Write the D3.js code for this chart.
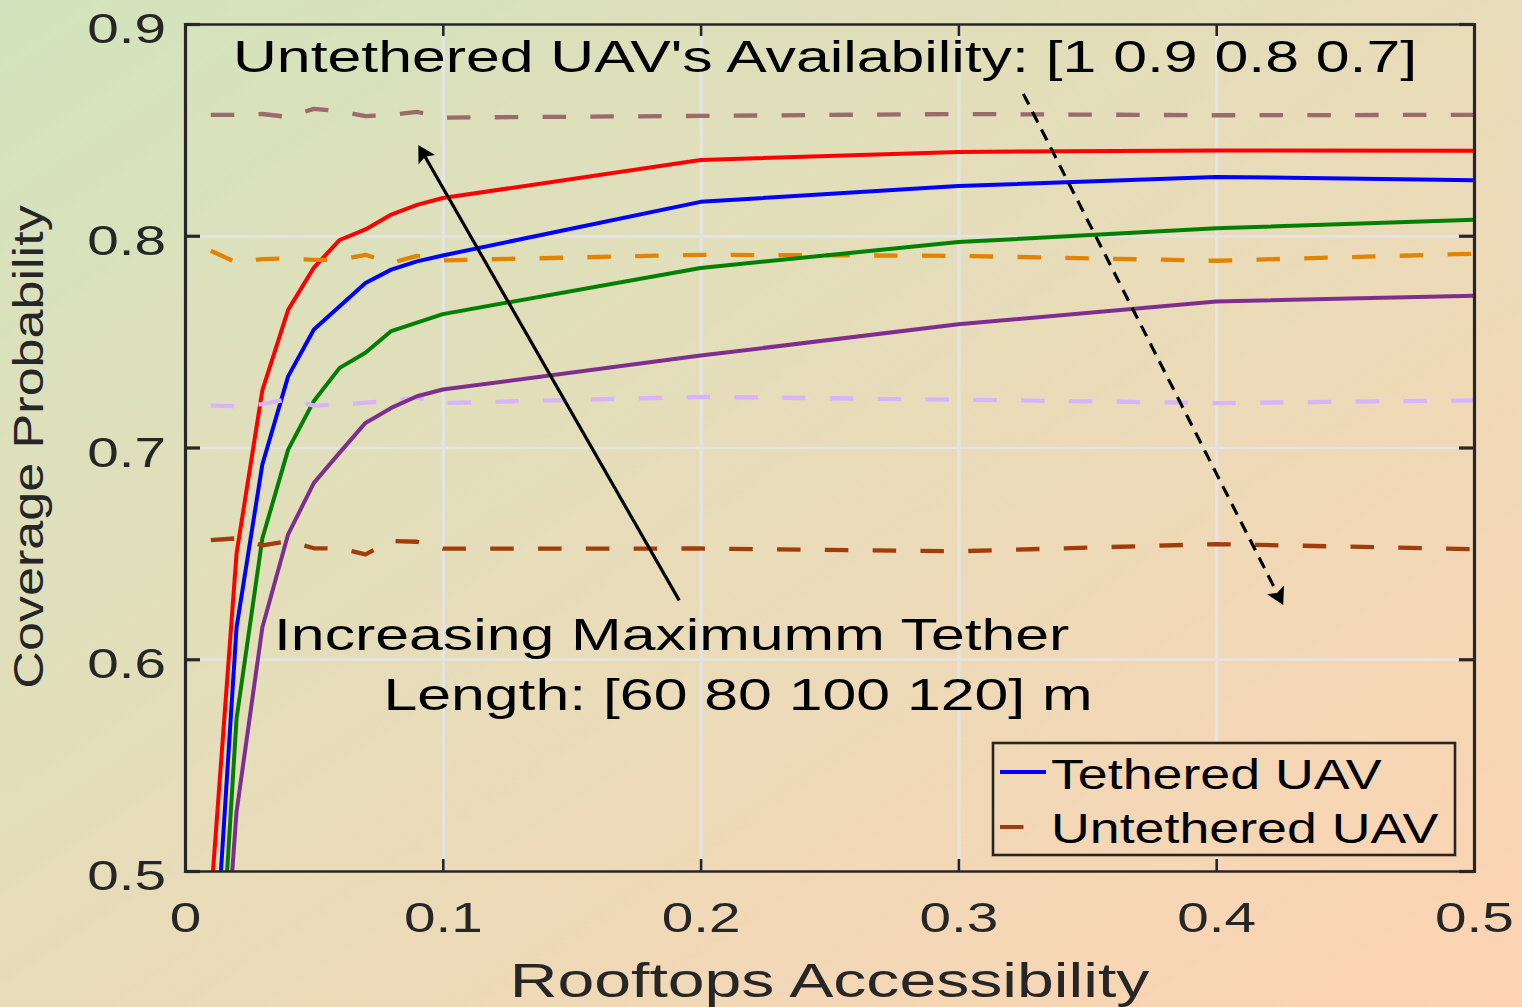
<!DOCTYPE html>
<html><head><meta charset="utf-8">
<script src="https://cdn.jsdelivr.net/npm/d3@7"></script>
<style>html,body{margin:0;padding:0;background:#e8dbb8;overflow:hidden;} svg{display:block;}</style>
</head><body>
<svg id="chart" width="1522" height="1007"></svg>
<script>
// ---------------- data ----------------
const rooftopAccess = [0.01,0.02,0.03,0.04,0.05,0.06,0.07,0.08,0.09,0.1,0.2,0.3,0.4,0.5];
// Tethered UAV, max tether length 120 / 100 / 80 / 60 m
const tethered120 = [0.486,0.650,0.727,0.765,0.785,0.798,0.803,0.810,0.8146,0.8178,0.8358,0.8396,0.8403,0.8402];
const tethered100 = [0.425,0.615,0.692,0.7336,0.7557,0.7667,0.7777,0.784,0.7879,0.7907,0.8160,0.8235,0.8278,0.8262];
const tethered80  = [0.375,0.572,0.657,0.699,0.722,0.7376,0.7447,0.755,0.759,0.7630,0.7848,0.7970,0.8035,0.8075];
const tethered60  = [0.360,0.528,0.615,0.659,0.6833,0.6976,0.7116,0.7187,0.7242,0.7274,0.7434,0.7582,0.7689,0.7717];
// Untethered UAV, availability 1 / 0.9 / 0.8 / 0.7
const untethered10 = [0.8571,0.8571,0.8575,0.8561,0.8599,0.8588,0.8565,0.8570,0.8585,0.8558,0.8566,0.8575,0.8569,0.8571];
const untethered09 = [0.7929,0.7874,0.7890,0.7893,0.7886,0.7886,0.7910,0.7872,0.7905,0.7884,0.7910,0.7905,0.7882,0.7915];
const untethered08 = [0.7198,0.7195,0.7205,0.7228,0.7198,0.7203,0.7212,0.7220,0.7235,0.7210,0.7239,0.7226,0.7210,0.7222];
const untethered07 = [0.6563,0.6571,0.6538,0.6558,0.6524,0.6524,0.6495,0.6559,0.6555,0.6522,0.6523,0.6510,0.6544,0.6520];

const xTicks = [0,0.1,0.2,0.3,0.4,0.5];
const xTickLabels = ["0","0.1","0.2","0.3","0.4","0.5"];
const yTicks = [0.5,0.6,0.7,0.8,0.9];
const yTickLabels = ["0.5","0.6","0.7","0.8","0.9"];
const legendLabels = ["Tethered UAV","Untethered UAV"];
const titleText = "Untethered UAV's Availability: [1 0.9 0.8 0.7]";
const noteLines = ["Increasing Maximumm Tether","Length: [60 80 100 120] m"];
const xLabel = "Rooftops Accessibility";
const yLabel = "Coverage Probability";
// arrows in data coordinates: [x0,y0,x1(tip),y1(tip)]
const tetherArrow = [0.1917,0.6278,0.0905,0.8429];
const availArrow  = [0.3252,0.8670,0.4260,0.6256];

// ---------------- setup ----------------
const W=1522, H=1007, L=185, R=1474, T=24, B=871;
const FONT = "'Liberation Sans', Arial, Helvetica, sans-serif";
const SX = 1.35; // horizontal stretch of text in reference
const svg = d3.select("#chart");
const defs = svg.append("defs");

// background gradient (userSpace so legend shares it)
const gx = 1007, gy = 1522, gl = Math.hypot(gx,gy);
const proj = (1522*gx + 1007*gy)/gl;
const grad = defs.append("linearGradient").attr("id","bg").attr("gradientUnits","userSpaceOnUse")
  .attr("x1",0).attr("y1",0).attr("x2",gx/gl*proj).attr("y2",gy/gl*proj);
grad.append("stop").attr("offset",0).attr("stop-color","#d2e4bd");
grad.append("stop").attr("offset",0.5).attr("stop-color","#e8dcb9");
grad.append("stop").attr("offset",1).attr("stop-color","#fdd3b3");
svg.append("rect").attr("width",W).attr("height",H).attr("fill","url(#bg)");

defs.append("clipPath").attr("id","plotClip").append("rect")
  .attr("x",L).attr("y",T).attr("width",R-L).attr("height",B-T);

const x = d3.scaleLinear().domain([0,0.5]).range([L,R]);
const y = d3.scaleLinear().domain([0.5,0.9]).range([B,T]);

// ---------------- grid ----------------
svg.append("g").attr("transform",`translate(0,${B})`)
  .call(d3.axisBottom(x).tickValues(xTicks.slice(1,-1)).tickSize(-(B-T)).tickFormat(""))
  .call(g=>g.select(".domain").remove())
  .selectAll("line").attr("stroke","#e4e4e4").attr("stroke-width",3.2);
svg.append("g").attr("transform",`translate(${L},0)`)
  .call(d3.axisLeft(y).tickValues(yTicks.slice(1,-1)).tickSize(-(R-L)).tickFormat(""))
  .call(g=>g.select(".domain").remove())
  .selectAll("line").attr("stroke","#e4e4e4").attr("stroke-width",2.6);

// ---------------- series ----------------
const DASH = "23.5,24.3";
const series = [
  {v:tethered120,  c:"#ff0000", d:null},
  {v:untethered10, c:"#9c6a6a", d:DASH},
  {v:tethered100,  c:"#0000ff", d:null},
  {v:untethered09, c:"#e38400", d:DASH},
  {v:tethered80,   c:"#008000", d:null},
  {v:untethered08, c:"#d8b4fd", d:DASH},
  {v:tethered60,   c:"#7e2f8e", d:null},
  {v:untethered07, c:"#a13d0a", d:DASH}
];
const line = d3.line().x((d,i)=>x(rooftopAccess[i])).y(d=>y(d));
const gLines = svg.append("g").attr("clip-path","url(#plotClip)");
series.forEach(s=>{
  gLines.append("path").datum(s.v).attr("d",line)
    .attr("fill","none").attr("stroke",s.c).attr("stroke-width",s.d?4.3:4)
    .attr("stroke-linejoin","round")
    .attr("stroke-dasharray",s.d);
});

// ---------------- axes ----------------
const AX = "#262626";
function styleAxis(g, w){
  g.select(".domain").attr("stroke",AX).attr("stroke-width",w).attr("stroke-linecap","square");
  g.selectAll(".tick line").attr("stroke",AX).attr("stroke-width",w);
}
const gB = svg.append("g").attr("transform",`translate(0,${B})`)
  .call(d3.axisBottom(x).tickValues(xTicks).tickFormat((d,i)=>xTickLabels[i]).tickSizeInner(-12).tickSizeOuter(0));
styleAxis(gB,2.6);
gB.selectAll(".tick text").attr("y",null).attr("dy",null)
  .attr("transform","translate(0,61) scale("+SX+",1)")
  .attr("font-family",FONT).attr("font-size",42).attr("fill",AX).attr("text-anchor","middle");

const gT = svg.append("g").attr("transform",`translate(0,${T})`)
  .call(d3.axisTop(x).tickValues(xTicks).tickFormat("").tickSizeInner(-12).tickSizeOuter(0));
styleAxis(gT,2.6);

const gL = svg.append("g").attr("transform",`translate(${L},0)`)
  .call(d3.axisLeft(y).tickValues(yTicks).tickFormat((d,i)=>yTickLabels[i]).tickSizeInner(-15).tickSizeOuter(0));
styleAxis(gL,3.2);
gL.selectAll(".tick text").attr("x",null).attr("dy",null)
  .attr("transform","translate(-19,18.5) scale("+SX+",1)")
  .attr("font-family",FONT).attr("font-size",42).attr("fill",AX).attr("text-anchor","end");

const gR = svg.append("g").attr("transform",`translate(${R},0)`)
  .call(d3.axisRight(y).tickValues(yTicks).tickFormat("").tickSizeInner(-15).tickSizeOuter(0));
styleAxis(gR,3.2);
svg.selectAll(".domain").attr("fill","none");

// axis labels
svg.append("text").text(xLabel)
  .attr("transform",`translate(${(L+R)/2},997) scale(${SX},1)`)
  .attr("text-anchor","middle").attr("font-family",FONT).attr("font-size",49).attr("fill",AX);
svg.append("text").text(yLabel)
  .attr("transform",`translate(43,447) rotate(-90) scale(1.24,1)`)
  .attr("text-anchor","middle").attr("font-family",FONT).attr("font-size",42).attr("fill",AX);

// ---------------- annotations ----------------
function addText(str, px, py, fs, anchor){
  svg.append("text").text(str)
    .attr("transform",`translate(${px},${py}) scale(${SX},1)`)
    .attr("text-anchor",anchor||"start").attr("font-family",FONT)
    .attr("font-size",fs).attr("fill","#000");
}
addText(titleText, 233, 72, 45);
addText(noteLines[0], 274, 650, 45);
addText(noteLines[1], 383.5, 710, 45);

function arrow(a, dashed){
  const x0=x(a[0]), y0=y(a[1]), x1=x(a[2]), y1=y(a[3]);
  const dx=x1-x0, dy=y1-y0, len=Math.hypot(dx,dy), ux=dx/len, uy=dy/len;
  const hl=17, hw=9.5;
  const bx=x1-ux*hl, by=y1-uy*hl;
  const px=-uy, py=ux;
  svg.append("line").attr("x1",x0).attr("y1",y0).attr("x2",x1-ux*hl*0.7).attr("y2",y1-uy*hl*0.7)
    .attr("stroke","#000").attr("stroke-width",3.2).attr("stroke-dasharray",dashed?"12,8":null);
  const nx=x1-ux*hl*0.8, ny=y1-uy*hl*0.8;
  svg.append("path")
    .attr("d",`M${x1},${y1}L${bx+px*hw},${by+py*hw}L${nx},${ny}L${bx-px*hw},${by-py*hw}Z`)
    .attr("fill","#000");
}
arrow(tetherArrow,false);
arrow(availArrow,true);

// ---------------- legend ----------------
const lg = svg.append("g");
lg.append("rect").attr("x",993).attr("y",743).attr("width",462).attr("height",112)
  .attr("fill","url(#bg)").attr("stroke",AX).attr("stroke-width",2.6);
const legendItems = [
  {label:legendLabels[0], c:"#0000ff", d:null, ly:772, ty:789},
  {label:legendLabels[1], c:"#a13d0a", d:DASH, ly:827, ty:843}
];
legendItems.forEach(it=>{
  lg.append("line").attr("x1",1000).attr("x2",1046).attr("y1",it.ly).attr("y2",it.ly)
    .attr("stroke",it.c).attr("stroke-width",4).attr("stroke-dasharray",it.d);
  lg.append("text").text(it.label)
    .attr("transform",`translate(1051,${it.ty}) scale(1.28,1)`)
    .attr("font-family",FONT).attr("font-size",42).attr("fill","#000");
});
</script>
</body></html>
